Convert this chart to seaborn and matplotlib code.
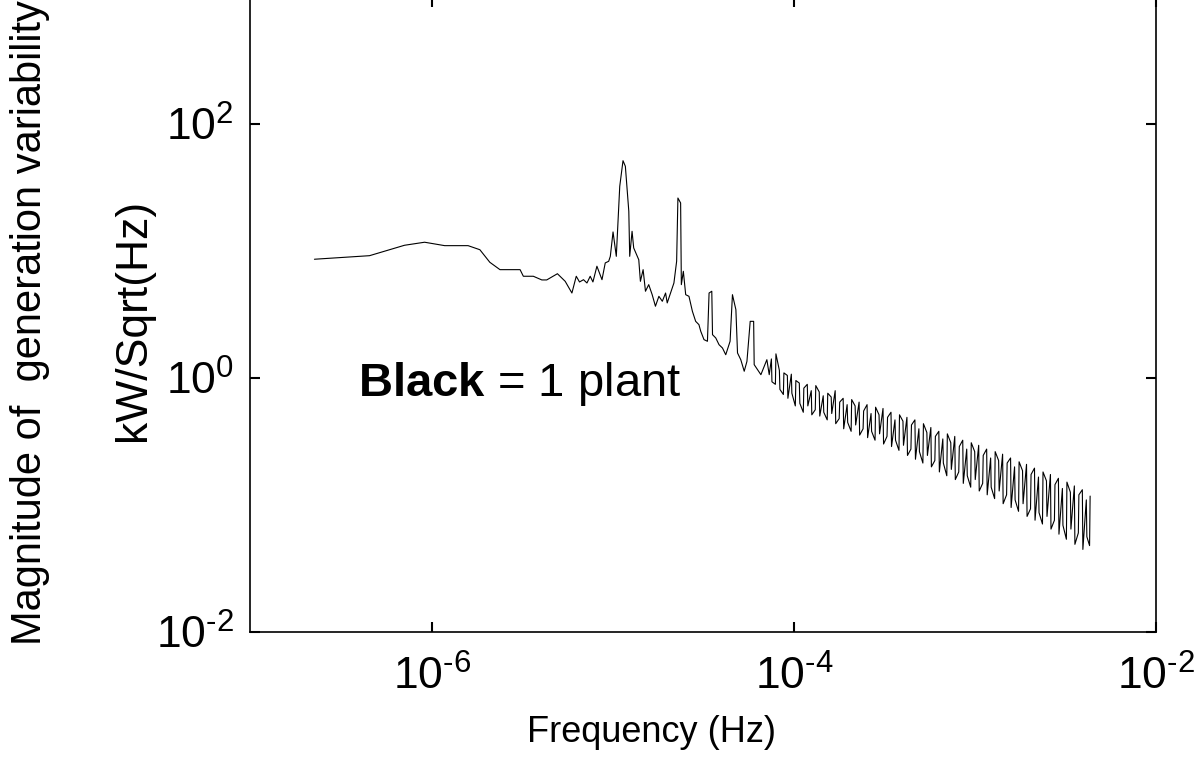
import numpy as np
import pandas as pd
import seaborn as sns
import matplotlib.pyplot as plt
from matplotlib.ticker import NullLocator

# values, as log10 of frequency (Hz) and log10 of magnitude (kW/Sqrt(Hz))
# low frequency part, up to ~7e-5 Hz
low_log_freq = [
    -6.647, -6.343, -6.150, -6.039, -5.928, -5.799, -5.734, -5.679, -5.623, -5.512,
    -5.494, -5.439, -5.392, -5.365, -5.306, -5.263, -5.226, -5.202, -5.184, -5.162,
    -5.143, -5.125, -5.110, -5.088, -5.060, -5.042, -5.023, -5.014, -4.999, -4.981,
    -4.962, -4.944, -4.931, -4.912, -4.907, -4.894, -4.885, -4.857, -4.848, -4.833,
    -4.820, -4.802, -4.783, -4.765, -4.746, -4.727, -4.709, -4.700, -4.678, -4.663,
    -4.648, -4.641, -4.626, -4.622, -4.611, -4.598, -4.580, -4.561, -4.543, -4.525,
    -4.515, -4.497, -4.478, -4.469, -4.454, -4.450, -4.432, -4.414, -4.395, -4.377,
    -4.353, -4.340, -4.321, -4.312, -4.294, -4.275, -4.260, -4.242, -4.223, -4.220,
    -4.201, -4.183, -4.150, -4.137,
]
low_log_mag = [
    0.935, 0.963, 1.045, 1.069, 1.042, 1.042, 1.010, 0.911, 0.853, 0.853,
    0.801, 0.801, 0.772, 0.772, 0.821, 0.761, 0.669, 0.801, 0.756, 0.774,
    0.748, 0.801, 0.756, 0.880, 0.774, 0.906, 0.919, 0.958, 1.150, 0.958,
    1.509, 1.711, 1.667, 1.313, 0.958, 1.155, 1.024, 0.931, 0.761, 0.853,
    0.683, 0.735, 0.656, 0.565, 0.643, 0.604, 0.669, 0.591, 0.683, 0.748,
    0.919, 1.417, 1.378, 0.735, 0.840, 0.656, 0.643, 0.525, 0.446, 0.420,
    0.368, 0.302, 0.289, 0.669, 0.683, 0.341, 0.315, 0.262, 0.236, 0.183,
    0.289, 0.656, 0.538, 0.197, 0.144, 0.053, 0.131, 0.446, 0.446, 0.105,
    0.065, 0.026, 0.144, 0.026,
]

# noisy high frequency part (pairs of close bins)
high_log_freq = [
    -4.125, -4.122, -4.103, -4.100, -4.081, -4.078, -4.059, -4.056, -4.037, -4.034,
    -4.015, -4.012, -3.993, -3.990, -3.971, -3.968, -3.949, -3.946, -3.927, -3.924,
    -3.905, -3.902, -3.883, -3.880, -3.861, -3.858, -3.839, -3.836, -3.817, -3.814,
    -3.795, -3.792, -3.773, -3.770, -3.751, -3.748, -3.729, -3.726, -3.707, -3.704,
    -3.685, -3.682, -3.663, -3.660, -3.641, -3.638, -3.619, -3.616, -3.597, -3.594,
    -3.575, -3.572, -3.553, -3.550, -3.531, -3.528, -3.509, -3.506, -3.487, -3.484,
    -3.465, -3.462, -3.443, -3.440, -3.421, -3.418, -3.399, -3.396, -3.377, -3.374,
    -3.355, -3.352, -3.333, -3.330, -3.311, -3.308, -3.289, -3.286, -3.267, -3.264,
    -3.245, -3.242, -3.223, -3.220, -3.201, -3.198, -3.179, -3.176, -3.157, -3.154,
    -3.135, -3.132, -3.113, -3.110, -3.091, -3.088, -3.069, -3.066, -3.047, -3.044,
    -3.025, -3.022, -3.003, -3.000, -2.981, -2.978, -2.959, -2.956, -2.937, -2.934,
    -2.915, -2.912, -2.893, -2.890, -2.871, -2.868, -2.849, -2.846, -2.827, -2.824,
    -2.805, -2.802, -2.783, -2.780, -2.761, -2.758, -2.739, -2.736, -2.717, -2.714,
    -2.695, -2.692, -2.673, -2.670, -2.651, -2.648, -2.629, -2.626, -2.607, -2.604,
    -2.585, -2.582, -2.563, -2.560, -2.541, -2.538, -2.519, -2.516, -2.497, -2.494,
    -2.475, -2.472, -2.453, -2.450, -2.431, -2.428, -2.409, -2.406, -2.387, -2.384,
    -2.369, -2.366,
]
high_log_mag = [
    0.15, -0.03, -0.05, 0.19, 0.06, -0.09, -0.13, 0.04, 0.02, -0.16,
    0.03, -0.12, -0.22, -0.02, -0.04, -0.20, -0.27, -0.08, -0.05, -0.22,
    -0.10, -0.29, -0.25, -0.06, -0.11, -0.30, -0.14, -0.27, -0.33, -0.12,
    -0.15, -0.28, -0.10, -0.36, -0.32, -0.19, -0.16, -0.40, -0.21, -0.35,
    -0.42, -0.17, -0.22, -0.37, -0.19, -0.45, -0.40, -0.26, -0.21, -0.47,
    -0.28, -0.42, -0.49, -0.23, -0.29, -0.44, -0.24, -0.52, -0.46, -0.31,
    -0.27, -0.54, -0.33, -0.49, -0.57, -0.29, -0.34, -0.53, -0.31, -0.61,
    -0.56, -0.37, -0.33, -0.64, -0.40, -0.58, -0.67, -0.36, -0.43, -0.61,
    -0.39, -0.70, -0.65, -0.46, -0.42, -0.74, -0.48, -0.67, -0.77, -0.44,
    -0.51, -0.72, -0.46, -0.80, -0.74, -0.54, -0.49, -0.83, -0.56, -0.77,
    -0.86, -0.51, -0.58, -0.80, -0.53, -0.89, -0.83, -0.61, -0.56, -0.92,
    -0.63, -0.86, -0.95, -0.58, -0.65, -0.89, -0.60, -0.99, -0.92, -0.67,
    -0.63, -1.02, -0.70, -0.96, -1.05, -0.66, -0.73, -0.99, -0.68, -1.09,
    -1.03, -0.76, -0.71, -1.12, -0.78, -1.06, -1.15, -0.74, -0.81, -1.09,
    -0.76, -1.19, -1.12, -0.84, -0.79, -1.23, -0.87, -1.16, -1.27, -0.82,
    -0.90, -1.19, -0.85, -1.31, -1.22, -0.92, -0.88, -1.35, -0.96, -1.25,
    -1.32, -0.93,
]

x_ticks = [1e-6, 1e-4, 1e-2]
x_tick_labels = ["$\\mathregular{10^{\u20106}}$", "$\\mathregular{10^{\u20104}}$",
                 "$\\mathregular{10^{\u20102}}$"]
y_ticks = [1e-2, 1e0, 1e2]
y_tick_labels = ["$\\mathregular{10^{\u20102}}$", "$\\mathregular{10^{0}}$",
                 "$\\mathregular{10^{2}}$"]

log_freq = np.array(low_log_freq + high_log_freq)
log_mag = np.array(low_log_mag + high_log_mag)
df = pd.DataFrame({"freq": 10 ** log_freq, "mag": 10 ** log_mag})

sns.set_style("ticks")
plt.rcParams['font.family'] = ['Liberation Sans', 'DejaVu Sans']
plt.rcParams['mathtext.fontset'] = 'custom'
plt.rcParams['mathtext.rm'] = 'Liberation Sans'
plt.rcParams['mathtext.bf'] = 'Liberation Sans:bold'
plt.rcParams['axes.unicode_minus'] = False
for k in ['text.color', 'axes.labelcolor', 'xtick.color', 'ytick.color', 'axes.edgecolor']:
    plt.rcParams[k] = 'black'

fig = plt.figure(figsize=(11.99, 7.69), dpi=100)
ax = fig.add_axes([0.2089, 0.1782, 0.7556, 0.8257])
ax.set(xscale='log', yscale='log')

sns.lineplot(data=df, x="freq", y="mag", sort=False, estimator=None,
             color='black', linewidth=0.8, ax=ax)

ax.set_xlim(1e-7, 1e-2)
ax.set_ylim(1e-2, 1e3)
ax.set_xticks(x_ticks)
ax.set_xticklabels(x_tick_labels)
ax.set_yticks(y_ticks)
ax.set_yticklabels(y_tick_labels)
ax.xaxis.set_minor_locator(NullLocator())
ax.yaxis.set_minor_locator(NullLocator())
ax.tick_params(direction='in', top=True, right=True, length=7, width=1.5,
               labelsize=32, colors='black')
ax.tick_params(axis='x', pad=17)
ax.tick_params(axis='y', pad=12)
for s in ax.spines.values():
    s.set_linewidth(1.2)

ax.set_xlabel("Frequency (Hz)", fontsize=26)
ax.xaxis.set_label_coords(0.443, -0.131)
ax.set_ylabel("")

fig.text(0.025, 0.58, "Magnitude of  generation variability", rotation=90,
         fontsize=30, ha='center', va='center')
fig.text(0.111, 0.584, "kW/Sqrt(Hz)", rotation=90, fontsize=32,
         ha='center', va='center')

ax.text(3.9e-7, 0.72, r"$\mathbf{Black}$ = 1 plant", fontsize=34, va='baseline')

fig.savefig("out.png", dpi=100)
